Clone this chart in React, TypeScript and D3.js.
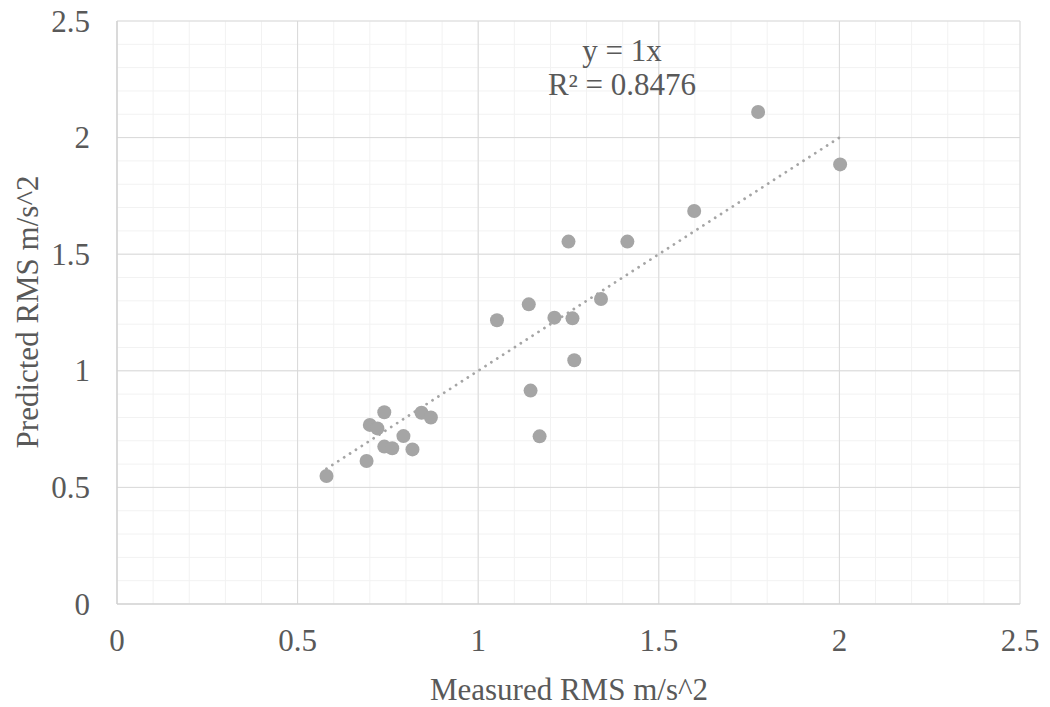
import React from "react";
import * as d3 from "d3";

const measured = [0.58, 0.691, 0.74, 0.70, 0.721, 0.74, 0.762, 0.793, 0.818, 0.843, 0.869, 1.052, 1.14, 1.211, 1.261, 1.25, 1.413, 1.34, 1.266, 1.145, 1.17, 1.598, 1.775, 2.002];
const predicted = [0.549, 0.613, 0.822, 0.768, 0.753, 0.675, 0.668, 0.72, 0.663, 0.82, 0.8, 1.217, 1.285, 1.228, 1.225, 1.554, 1.554, 1.308, 1.045, 0.915, 0.719, 1.685, 2.11, 1.885];
const majorTicks = [0, 0.5, 1, 1.5, 2, 2.5];
const minorTicks = d3.range(0, 26).map((i) => i / 10);
const slope = 1;

export default function App() {
  const W = 1050, H = 707;
  const x = d3.scaleLinear().domain([0, 2.5]).range([117, 1020]);
  const y = d3.scaleLinear().domain([0, 2.5]).range([604, 21]);
  const xmin = d3.min(measured)!;
  const xmax = d3.max(measured)!;
  const font = "'Liberation Serif', 'Times New Roman', serif";
  const txt = "#595959";
  const fs = 31;
  return (
    <svg width={W} height={H} style={{ position: "absolute", left: 0, top: 0 }}>
      <rect width={W} height={H} fill="#fff" />
      {minorTicks.map((t, i) => (
        <g key={"m" + i}>
          <line x1={x(t)} x2={x(t)} y1={y(0)} y2={y(2.5)} stroke="#F2F2F2" strokeWidth={1} />
          <line x1={x(0)} x2={x(2.5)} y1={y(t)} y2={y(t)} stroke="#F2F2F2" strokeWidth={1} />
        </g>
      ))}
      {majorTicks.map((t, i) => (
        <g key={"M" + i}>
          <line x1={x(t)} x2={x(t)} y1={y(0)} y2={y(2.5)} stroke="#D9D9D9" strokeWidth={1} />
          <line x1={x(0)} x2={x(2.5)} y1={y(t)} y2={y(t)} stroke="#D9D9D9" strokeWidth={1} />
        </g>
      ))}
      <line x1={x(0)} x2={x(0)} y1={y(0)} y2={y(2.5)} stroke="#D0D0D0" strokeWidth={1.2} />
      <line x1={x(0)} x2={x(2.5)} y1={y(0)} y2={y(0)} stroke="#D0D0D0" strokeWidth={1.2} />
      {majorTicks.map((t, i) => (
        <text key={"yl" + i} x={90} y={y(t)} textAnchor="end" dominantBaseline="central" fontFamily={font} fontSize={fs} fill={txt}>{t}</text>
      ))}
      {majorTicks.map((t, i) => (
        <text key={"xl" + i} x={x(t)} y={640} textAnchor="middle" dominantBaseline="central" fontFamily={font} fontSize={fs} fill={txt}>{t}</text>
      ))}
      <line x1={x(xmin)} y1={y(slope * xmin)} x2={x(xmax)} y2={y(slope * xmax)} stroke="#A5A5A5" strokeWidth={2.8} strokeDasharray="0.01 7" strokeLinecap="round" />
      {measured.map((m, i) => (
        <circle key={"p" + i} cx={x(m)} cy={y(predicted[i])} r={7} fill="#A5A5A5" />
      ))}
      <text x={622} y={50} textAnchor="middle" dominantBaseline="central" fontFamily={font} fontSize={fs} fill={txt}>y = 1x</text>
      <text x={622} y={84} textAnchor="middle" dominantBaseline="central" fontFamily={font} fontSize={fs} fill={txt}>R² = 0.8476</text>
      <text x={569} y={689} textAnchor="middle" dominantBaseline="central" fontFamily={font} fontSize={fs} fill={txt}>Measured RMS m/s^2</text>
      <text transform={`translate(27,312) rotate(-90)`} textAnchor="middle" dominantBaseline="central" fontFamily={font} fontSize={fs} fill={txt}>Predicted RMS m/s^2</text>
    </svg>
  );
}
